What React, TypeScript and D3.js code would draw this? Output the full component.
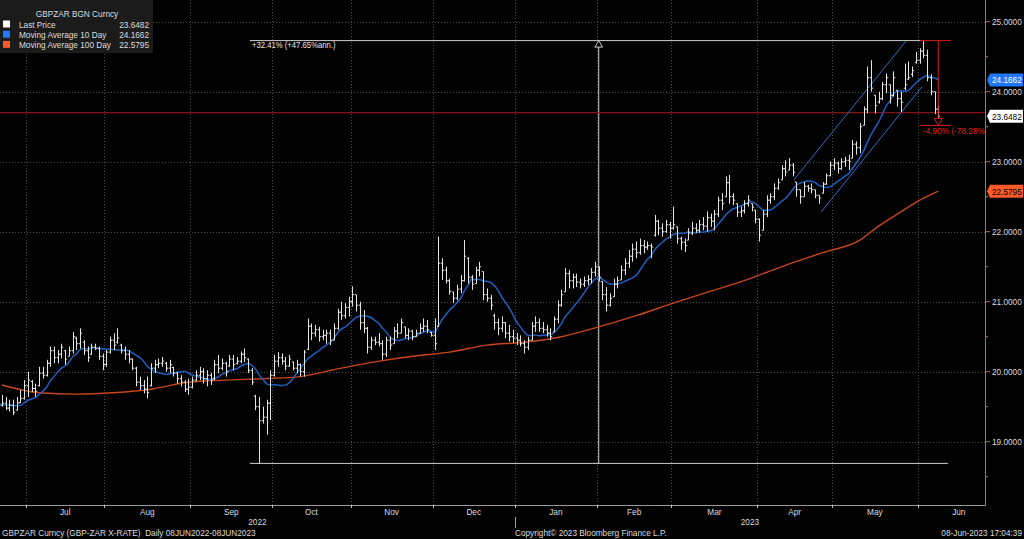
import * as d3 from 'd3';
import type { ReactNode } from 'react';

const WIDTH = 1024;
const HEIGHT = 539;
const PLOT_RIGHT = 985;
const AXIS_Y = 505;
const FONT = '"Liberation Sans", Arial, sans-serif';

// every weekday from 08-Jun-2022 is one session
const firstSession = new Date(2022, 5, 8);

const opens = [
  19.58, 19.62, 19.55, 19.48, 19.52, 19.60, 19.55, 19.45, 19.50, 19.58,
  19.52, 19.55, 19.48, 19.52, 19.45, 19.56, 19.62, 19.80, 19.86, 19.76,
  19.80, 19.98, 19.95, 20.12, 20.30, 20.20, 20.25, 20.30, 20.22, 20.30,
  20.48, 20.40, 20.42, 20.30, 20.25, 20.35, 20.33, 20.22, 20.10, 20.28,
  20.45, 20.42, 20.38, 20.30, 20.25, 20.18, 20.05, 19.85, 19.80, 19.75,
  19.80, 20.05, 20.10, 20.12, 20.12, 20.05, 20.06, 19.98, 19.90, 19.85,
  19.75, 19.78, 19.88, 19.95, 20.00, 19.90, 19.95, 19.90, 20.10, 20.05,
  20.12, 20.08, 20.18, 20.12, 20.15, 20.25, 20.18, 20.02, 19.65, 19.50,
  19.30, 19.35, 19.55, 19.95, 20.15, 20.20, 20.15, 20.08, 20.14, 20.05,
  20.10, 20.00, 20.32, 20.65, 20.55, 20.60, 20.50, 20.52, 20.55, 20.45,
  20.62, 20.85, 20.80, 20.92, 21.00, 21.10, 20.95, 20.70, 20.62, 20.35,
  20.45, 20.42, 20.40, 20.25, 20.45, 20.40, 20.58, 20.55, 20.64, 20.52,
  20.58, 20.50, 20.55, 20.62, 20.65, 20.56, 20.52, 20.65, 21.55, 21.45,
  21.30, 21.14, 21.05, 21.18, 21.30, 21.62, 21.35, 21.26, 21.45, 21.43,
  21.10, 21.05, 20.80, 20.70, 20.62, 20.70, 20.55, 20.50, 20.48, 20.45,
  20.40, 20.35, 20.45, 20.65, 20.70, 20.62, 20.60, 20.55, 20.57, 20.75,
  20.95, 21.14, 21.40, 21.30, 21.35, 21.28, 21.25, 21.30, 21.32, 21.42,
  21.50, 21.29, 21.10, 20.95, 21.07, 21.25, 21.31, 21.45, 21.55, 21.65,
  21.75, 21.70, 21.80, 21.78, 21.80, 21.95, 22.15, 22.05, 22.00, 22.10,
  22.05, 22.07, 21.90, 21.85, 21.88, 21.98, 22.05, 22.02, 22.10, 22.08,
  22.20, 22.15, 22.25, 22.45, 22.50, 22.70, 22.50, 22.40, 22.28, 22.30,
  22.40, 22.40, 22.31, 22.18, 22.02, 22.25, 22.45, 22.50, 22.62, 22.74,
  22.90, 22.88, 22.95, 22.71, 22.60, 22.50, 22.65, 22.62, 22.60, 22.52,
  22.55, 22.68, 22.80, 22.95, 22.98, 22.90, 23.00, 23.02, 23.05, 23.25,
  23.20, 23.52, 23.75, 24.20, 23.95, 23.85, 23.90, 24.10, 24.10, 23.95,
  24.02, 23.90, 24.05, 24.18, 24.25, 24.42, 24.45, 24.58, 24.52, 24.20,
  24.00, 23.75,
];

const highs = [
  19.70, 19.68, 19.60, 19.60, 19.68, 19.65, 19.58, 19.58, 19.66, 19.62,
  19.67, 19.64, 19.60, 19.60, 19.64, 19.74, 19.88, 20.00, 19.88, 19.83,
  20.07, 20.07, 20.17, 20.36, 20.36, 20.31, 20.40, 20.31, 20.36, 20.57,
  20.50, 20.62, 20.45, 20.36, 20.40, 20.40, 20.36, 20.26, 20.31, 20.50,
  20.55, 20.62, 20.40, 20.36, 20.31, 20.19, 20.07, 19.93, 19.88, 19.93,
  20.12, 20.17, 20.19, 20.21, 20.14, 20.17, 20.07, 20.00, 19.95, 19.88,
  19.90, 19.93, 20.02, 20.07, 20.05, 20.02, 19.98, 20.17, 20.24, 20.19,
  20.14, 20.24, 20.24, 20.21, 20.29, 20.33, 20.19, 20.05, 19.67, 19.64,
  19.50, 19.60, 20.02, 20.24, 20.28, 20.26, 20.21, 20.24, 20.14, 20.17,
  20.12, 20.31, 20.76, 20.69, 20.67, 20.64, 20.60, 20.60, 20.60, 20.69,
  20.90, 21.00, 20.98, 21.07, 21.22, 21.10, 21.00, 20.88, 20.64, 20.50,
  20.50, 20.55, 20.45, 20.50, 20.50, 20.64, 20.69, 20.76, 20.64, 20.62,
  20.60, 20.60, 20.69, 20.76, 20.74, 20.57, 20.76, 21.93, 21.62, 21.50,
  21.33, 21.14, 21.24, 21.38, 21.88, 21.64, 21.38, 21.50, 21.57, 21.43,
  21.19, 21.10, 20.83, 20.76, 20.79, 20.71, 20.67, 20.60, 20.55, 20.52,
  20.45, 20.50, 20.71, 20.79, 20.76, 20.71, 20.67, 20.62, 20.79, 21.02,
  21.17, 21.48, 21.45, 21.40, 21.40, 21.33, 21.36, 21.38, 21.48, 21.57,
  21.50, 21.29, 21.21, 21.12, 21.33, 21.36, 21.52, 21.62, 21.74, 21.83,
  21.86, 21.90, 21.88, 21.86, 21.83, 22.24, 22.17, 22.12, 22.17, 22.14,
  22.36, 22.07, 21.93, 21.90, 22.05, 22.14, 22.12, 22.17, 22.21, 22.29,
  22.26, 22.31, 22.50, 22.55, 22.79, 22.81, 22.55, 22.40, 22.36, 22.45,
  22.52, 22.40, 22.31, 22.19, 22.31, 22.52, 22.55, 22.69, 22.76, 22.95,
  23.02, 23.05, 22.98, 22.71, 22.60, 22.71, 22.67, 22.69, 22.60, 22.52,
  22.71, 22.83, 23.00, 23.05, 23.00, 23.05, 23.07, 23.10, 23.31, 23.29,
  23.55, 23.79, 24.36, 24.45, 23.95, 24.00, 24.14, 24.26, 24.10, 24.29,
  24.02, 24.00, 24.40, 24.43, 24.36, 24.57, 24.62, 24.73, 24.60, 24.25,
  24.00, 23.80,
];

const lows = [
  19.52, 19.48, 19.42, 19.44, 19.50, 19.48, 19.40, 19.42, 19.48, 19.46,
  19.50, 19.45, 19.43, 19.38, 19.45, 19.55, 19.60, 19.64, 19.71, 19.64,
  19.79, 19.90, 19.93, 20.07, 20.12, 20.12, 20.19, 20.10, 20.22, 20.26,
  20.31, 20.33, 20.24, 20.14, 20.24, 20.31, 20.17, 20.02, 20.07, 20.26,
  20.31, 20.40, 20.26, 20.17, 20.12, 20.02, 19.79, 19.74, 19.69, 19.62,
  19.79, 19.98, 20.05, 20.07, 20.00, 19.98, 19.93, 19.83, 19.79, 19.71,
  19.67, 19.76, 19.86, 19.88, 19.83, 19.79, 19.81, 19.88, 19.98, 20.02,
  19.93, 20.07, 20.02, 20.10, 20.12, 20.14, 19.98, 19.81, 19.45, 18.69,
  19.26, 19.10, 19.31, 19.93, 20.07, 20.10, 20.02, 20.07, 20.02, 19.98,
  19.93, 19.93, 20.31, 20.45, 20.50, 20.43, 20.45, 20.40, 20.38, 20.45,
  20.60, 20.74, 20.76, 20.79, 20.93, 20.86, 20.60, 20.55, 20.26, 20.31,
  20.38, 20.36, 20.17, 20.21, 20.31, 20.40, 20.48, 20.55, 20.48, 20.45,
  20.45, 20.50, 20.55, 20.57, 20.55, 20.50, 20.31, 20.64, 21.31, 21.26,
  21.10, 20.98, 21.02, 21.12, 21.29, 21.26, 21.17, 21.26, 21.36, 21.02,
  21.00, 20.88, 20.60, 20.52, 20.57, 20.48, 20.43, 20.41, 20.38, 20.36,
  20.26, 20.31, 20.45, 20.57, 20.57, 20.55, 20.50, 20.45, 20.57, 20.69,
  20.93, 21.14, 21.19, 21.19, 21.21, 21.19, 21.21, 21.24, 21.26, 21.36,
  21.29, 21.02, 20.86, 20.93, 21.07, 21.19, 21.31, 21.38, 21.48, 21.57,
  21.62, 21.67, 21.69, 21.74, 21.62, 21.93, 21.95, 21.93, 21.98, 21.90,
  22.03, 21.83, 21.74, 21.71, 21.88, 21.95, 21.98, 21.98, 22.02, 22.00,
  22.07, 22.02, 22.21, 22.31, 22.50, 22.40, 22.38, 22.21, 22.21, 22.26,
  22.36, 22.29, 22.12, 21.86, 22.02, 22.21, 22.40, 22.45, 22.60, 22.74,
  22.79, 22.88, 22.79, 22.50, 22.40, 22.50, 22.57, 22.55, 22.48, 22.40,
  22.55, 22.67, 22.79, 22.88, 22.83, 22.88, 22.93, 22.88, 23.05, 23.10,
  23.12, 23.52, 23.69, 24.00, 23.69, 23.83, 23.88, 23.98, 23.83, 23.93,
  23.79, 23.71, 24.02, 24.17, 24.21, 24.40, 24.40, 24.48, 24.15, 23.95,
  23.68, 23.52,
];

const closes = [
  19.62, 19.55, 19.48, 19.52, 19.60, 19.55, 19.45, 19.50, 19.58, 19.52,
  19.55, 19.48, 19.52, 19.42, 19.55, 19.62, 19.80, 19.88, 19.76, 19.72,
  19.98, 19.95, 20.12, 20.30, 20.20, 20.25, 20.35, 20.18, 20.30, 20.50,
  20.40, 20.55, 20.30, 20.20, 20.35, 20.33, 20.22, 20.10, 20.28, 20.45,
  20.38, 20.48, 20.30, 20.25, 20.18, 20.05, 19.85, 19.80, 19.75, 19.70,
  20.05, 20.10, 20.12, 20.15, 20.05, 20.10, 19.98, 19.90, 19.85, 19.75,
  19.78, 19.88, 19.95, 20.00, 19.90, 19.95, 19.88, 20.10, 20.05, 20.12,
  20.00, 20.18, 20.10, 20.15, 20.25, 20.20, 20.02, 19.85, 19.50, 19.30,
  19.35, 19.55, 19.95, 20.15, 20.20, 20.15, 20.08, 20.18, 20.05, 20.10,
  20.00, 20.28, 20.65, 20.55, 20.60, 20.50, 20.52, 20.55, 20.45, 20.62,
  20.85, 20.80, 20.92, 21.00, 21.10, 20.95, 20.70, 20.62, 20.35, 20.45,
  20.42, 20.40, 20.25, 20.45, 20.38, 20.58, 20.55, 20.70, 20.52, 20.58,
  20.50, 20.55, 20.62, 20.65, 20.60, 20.52, 20.40, 21.55, 21.45, 21.30,
  21.15, 21.05, 21.18, 21.30, 21.65, 21.35, 21.25, 21.45, 21.50, 21.10,
  21.05, 20.95, 20.70, 20.62, 20.70, 20.55, 20.50, 20.48, 20.45, 20.40,
  20.35, 20.45, 20.65, 20.70, 20.62, 20.60, 20.55, 20.50, 20.75, 20.95,
  21.10, 21.40, 21.30, 21.35, 21.28, 21.25, 21.30, 21.32, 21.42, 21.50,
  21.35, 21.10, 20.95, 21.05, 21.25, 21.30, 21.45, 21.55, 21.65, 21.75,
  21.70, 21.80, 21.78, 21.80, 21.78, 22.15, 22.05, 22.00, 22.10, 22.05,
  22.10, 21.90, 21.85, 21.80, 21.98, 22.05, 22.02, 22.10, 22.08, 22.20,
  22.15, 22.25, 22.45, 22.40, 22.70, 22.50, 22.45, 22.28, 22.30, 22.40,
  22.45, 22.35, 22.18, 21.95, 22.25, 22.45, 22.50, 22.62, 22.70, 22.90,
  22.85, 22.95, 22.85, 22.60, 22.50, 22.65, 22.62, 22.60, 22.52, 22.48,
  22.68, 22.80, 22.95, 22.98, 22.90, 23.00, 23.02, 23.00, 23.25, 23.20,
  23.50, 23.75, 24.20, 24.05, 23.80, 23.90, 24.10, 24.20, 23.95, 24.20,
  23.90, 23.85, 24.10, 24.20, 24.30, 24.45, 24.58, 24.52, 24.20, 24.00,
  23.75, 23.6482,
];

// 100-day moving average at these sessions
const ma100Sessions = [10, 20, 30, 40, 50, 60, 70, 80, 90, 100, 110, 120, 130, 140, 150, 160, 170, 180, 190, 200, 210, 220, 230, 240, 245, 250, 255, 261];
const ma100Values = [19.81, 19.70, 19.68, 19.70, 19.75, 19.85, 19.88, 19.90, 19.93, 20.04, 20.14, 20.22, 20.28, 20.38, 20.42, 20.50, 20.64, 20.80, 20.98, 21.15, 21.32, 21.52, 21.70, 21.88, 22.08, 22.25, 22.42, 22.58];

const priceTicks = [25, 24, 23, 22, 21, 20, 19];
const minorTicks = [24.5, 23.5, 22.5, 21.5, 20.5, 19.5, 18.5];
const monthNames = ['Jan', 'Feb', 'Mar', 'Apr', 'May', 'Jun', 'Jul', 'Aug', 'Sep', 'Oct', 'Nov', 'Dec'];

const legendTitle = 'GBPZAR BGN Curncy';
const legendLabels = ['Last Price', 'Moving Average 10 Day', 'Moving Average 100 Day'];
const legendValues = ['23.6482', '24.1662', '22.5795'];
const legendColors = ['#ffffff', '#1f78ff', '#ff5a28'];

const lastPrice = 23.6482;
const ma10Last = 24.1662;
const ma100Last = 22.5795;

// drawn annotations (session, price)
const channelUpper = [[222.3, 22.74], [252.3, 24.72]];
const channelLower = [[229.6, 22.28], [256.6, 24.07]];
const horizontalLevel = 23.70;
const rangeSpan = [77, 256.9, 264.1];
const rangeMidSession = 170;
const dropSpan = [256.6, 264.9];
const dropSession = 261;
const dropPct = 0.049;
const rangeLabel = '+32.41% (+47.65%ann.)';
const dropLabel = '-4.90% (-78.28%ann.)';

const footerLeft = 'GBPZAR Curncy (GBP-ZAR X-RATE)\u00a0\u00a0Daily 08JUN2022-08JUN2023';
const footerMid = 'Copyright© 2023 Bloomberg Finance L.P.';
const footerRight = '08-Jun-2023 17:04:39';

function weekdays(start: Date, count: number) {
  const out: Date[] = [];
  const d = new Date(start);
  while (out.length < count) {
    const wd = d.getDay();
    if (wd !== 0 && wd !== 6) out.push(new Date(d));
    d.setDate(d.getDate() + 1);
  }
  return out;
}

// Bloomberg's terminal font is narrow, so squeeze Liberation Sans a little
function T({ x, y, children, anchor = 'start', fill = '#dcdcdc', size = 9.6 }: {
  x: number; y: number; children: ReactNode; anchor?: string; fill?: string; size?: number;
}) {
  return (
    <text transform={`translate(${x},${y}) scale(0.86,1)`} textAnchor={anchor} fill={fill}
      fontSize={size} fontFamily={FONT}>{children}</text>
  );
}

export default function App() {
  const n = closes.length;
  const calendar = weekdays(firstSession, n + 30);

  const x = d3.scaleLinear().domain([0, n]).range([-37.4, -37.4 + 3.731 * n]);
  const y = d3.scaleLinear().domain([19, 25]).range([441.7, 21.7]);
  const cx = (i: number) => x(i + 0.5);

  // month boundaries
  const monthStarts: { i: number; d: Date }[] = [];
  for (let i = 1; i < calendar.length; i++) {
    if (calendar[i].getMonth() !== calendar[i - 1].getMonth()) monthStarts.push({ i, d: calendar[i] });
  }
  const shownStarts = monthStarts.filter(m => m.i < n);
  const monthLabels = monthStarts.slice(0, -1)
    .map((m, k) => ({ name: monthNames[m.d.getMonth()], at: (x(m.i) + x(monthStarts[k + 1].i)) / 2, i: m.i }))
    .filter(m => m.i < n);
  const janStart = shownStarts.find(m => m.d.getMonth() === 0)!;

  const ma10 = d3.range(9, n).map(i => [i, d3.mean(closes.slice(i - 9, i + 1)) as number]);
  const line = d3.line<number[]>().x(d => cx(d[0])).y(d => y(d[1])).curve(d3.curveMonotoneX);
  const ma100Line = line(ma100Sessions.map((s, k) => [s, ma100Values[k]])) || '';

  const top = d3.max(highs)!;
  const bottom = d3.min(lows)!;
  const yTop = y(top);
  const yBottom = y(bottom);
  const dropLow = y(top * (1 - dropPct));
  const xMid = cx(rangeMidSession);
  const xDrop = cx(dropSession);

  const tickW = 1.7;
  const axisColor = '#a8793e';

  const valueBox = (v: number, fill: string, text: string, textColor: string) => {
    const c = y(v);
    return (
      <g key={text}>
        <path d={`M${PLOT_RIGHT + 2},${c} L${PLOT_RIGHT + 5},${c - 6.5} H1023 V${c + 6.5} H${PLOT_RIGHT + 5} Z`} fill={fill} />
        <T x={PLOT_RIGHT + 7} y={c + 3.4} fill={textColor}>{text}</T>
      </g>
    );
  };

  return (
    <svg width={WIDTH} height={HEIGHT} style={{ position: 'fixed', left: 0, top: 0, display: 'block' }}>
      <defs>
        <clipPath id="plot"><rect x={0} y={0} width={PLOT_RIGHT} height={AXIS_Y} /></clipPath>
      </defs>
      <rect width={WIDTH} height={HEIGHT} fill="#000" />

      {/* grid */}
      <g stroke="#4d4d4d" strokeWidth={1} strokeDasharray="1,2">
        {priceTicks.map(t => <line key={t} x1={0} x2={PLOT_RIGHT} y1={Math.round(y(t)) + 0.5} y2={Math.round(y(t)) + 0.5} />)}
        {shownStarts.map(m => <line key={m.i} x1={Math.round(x(m.i)) + 0.5} x2={Math.round(x(m.i)) + 0.5} y1={0} y2={AXIS_Y} />)}
      </g>

      <g clipPath="url(#plot)">
        {/* range measurement */}
        <g stroke="#cfcfcf" strokeWidth={1} fill="#000">
          <line x1={x(rangeSpan[0])} x2={x(rangeSpan[1])} y1={yTop} y2={yTop} />
          <line x1={x(rangeSpan[0])} x2={x(rangeSpan[2])} y1={yBottom} y2={yBottom} />
          <line x1={xMid} x2={xMid} y1={yTop + 6.5} y2={yBottom} />
          <path d={`M${xMid},${yTop} L${xMid - 3.8},${yTop + 6.5} L${xMid + 3.8},${yTop + 6.5} Z`} />
        </g>
        <T x={x(rangeSpan[0]) + 2} y={yTop + 7.5} fill="#e8e8e8" size={9}>{rangeLabel}</T>

        {/* level line */}
        <line x1={0} x2={PLOT_RIGHT} y1={y(horizontalLevel)} y2={y(horizontalLevel)} stroke="#a3191b" strokeWidth={1} />

        {/* moving averages */}
        <path d={ma100Line} fill="none" stroke="#c8461c" strokeWidth={1.4} />
        <path d={line(ma10) || ''} fill="none" stroke="#1e5fc0" strokeWidth={1.5} />

        {/* channel */}
        <g stroke="#2f6fc6" strokeWidth={1}>
          <line x1={cx(channelUpper[0][0])} y1={y(channelUpper[0][1])} x2={cx(channelUpper[1][0])} y2={y(channelUpper[1][1])} />
          <line x1={cx(channelLower[0][0])} y1={y(channelLower[0][1])} x2={cx(channelLower[1][0])} y2={y(channelLower[1][1])} />
        </g>

        {/* price bars */}
        <g stroke="#e4e4e4" strokeWidth={1}>
          {closes.map((c, i) => {
            const xc = Math.round(cx(i)) + 0.5;
            return (
              <g key={i}>
                <line x1={xc} x2={xc} y1={y(highs[i])} y2={y(lows[i])} />
                <line x1={xc - tickW} x2={xc} y1={y(opens[i])} y2={y(opens[i])} />
                <line x1={xc} x2={xc + tickW} y1={y(c)} y2={y(c)} />
              </g>
            );
          })}
        </g>

        {/* drop measurement */}
        <g stroke="#d41c1c" strokeWidth={1} fill="#000">
          <line x1={x(dropSpan[0])} x2={x(dropSpan[1])} y1={yTop} y2={yTop} />
          <line x1={x(dropSpan[0])} x2={x(dropSpan[1])} y1={dropLow} y2={dropLow} />
          <line x1={xDrop} x2={xDrop} y1={yTop} y2={dropLow - 7} />
          <path d={`M${xDrop},${dropLow} L${xDrop - 4},${dropLow - 7} L${xDrop + 4},${dropLow - 7} Z`} />
        </g>
        <T x={x(dropSpan[0]) + 3} y={dropLow + 8.5} fill="#e0201c">{dropLabel}</T>
      </g>

      {/* axes */}
      <line x1={0} x2={PLOT_RIGHT} y1={AXIS_Y + 0.5} y2={AXIS_Y + 0.5} stroke="#9a9a9a" />
      <line x1={PLOT_RIGHT + 0.5} x2={PLOT_RIGHT + 0.5} y1={0} y2={AXIS_Y + 1} stroke={axisColor} />
      {shownStarts.map(m => (
        <line key={m.i} x1={Math.round(x(m.i)) + 0.5} x2={Math.round(x(m.i)) + 0.5} y1={AXIS_Y} y2={AXIS_Y + 3} stroke="#bdbdbd" />
      ))}
      {monthLabels.map(m => (
        <T key={m.i} x={m.at} y={515} anchor="middle">{m.name}</T>
      ))}
      <T x={x(janStart.i) / 2} y={525} anchor="middle">{calendar[janStart.i - 1].getFullYear()}</T>
      <T x={(x(janStart.i) + PLOT_RIGHT) / 2} y={525} anchor="middle">{janStart.d.getFullYear()}</T>
      <line x1={Math.round(x(janStart.i)) + 0.5} x2={Math.round(x(janStart.i)) + 0.5} y1={517} y2={528} stroke="#9a9a9a" />

      {priceTicks.map(t => (
        <g key={t}>
          <line x1={PLOT_RIGHT} x2={PLOT_RIGHT + 5} y1={y(t)} y2={y(t)} stroke={axisColor} />
          <T x={PLOT_RIGHT + 7} y={y(t) + 3.4}>{t.toFixed(4)}</T>
        </g>
      ))}
      {minorTicks.map(t => (
        <line key={t} x1={PLOT_RIGHT} x2={PLOT_RIGHT + 3} y1={y(t)} y2={y(t)} stroke={axisColor} />
      ))}

      {valueBox(ma10Last, '#1f78ff', legendValues[1], '#ffffff')}
      {valueBox(lastPrice, '#ffffff', legendValues[0], '#000000')}
      {valueBox(ma100Last, '#ff5a28', legendValues[2], '#000000')}

      {/* footer */}
      <T x={2} y={536}>{footerLeft}</T>
      <T x={515} y={536}>{footerMid}</T>
      <T x={1022} y={536} anchor="end">{footerRight}</T>

      {/* legend */}
      <rect x={0} y={0} width={153} height={53} fill="#1b1b1b" />
      <T x={77} y={17} anchor="middle">{legendTitle}</T>
      {legendLabels.map((l, k) => (
        <g key={l}>
          <rect x={3} y={20.5 + k * 10.2} width={7} height={7} fill={legendColors[k]} />
          <T x={19} y={27.6 + k * 10.2}>{l}</T>
          <T x={149} y={27.6 + k * 10.2} anchor="end">{legendValues[k]}</T>
        </g>
      ))}
    </svg>
  );
}
